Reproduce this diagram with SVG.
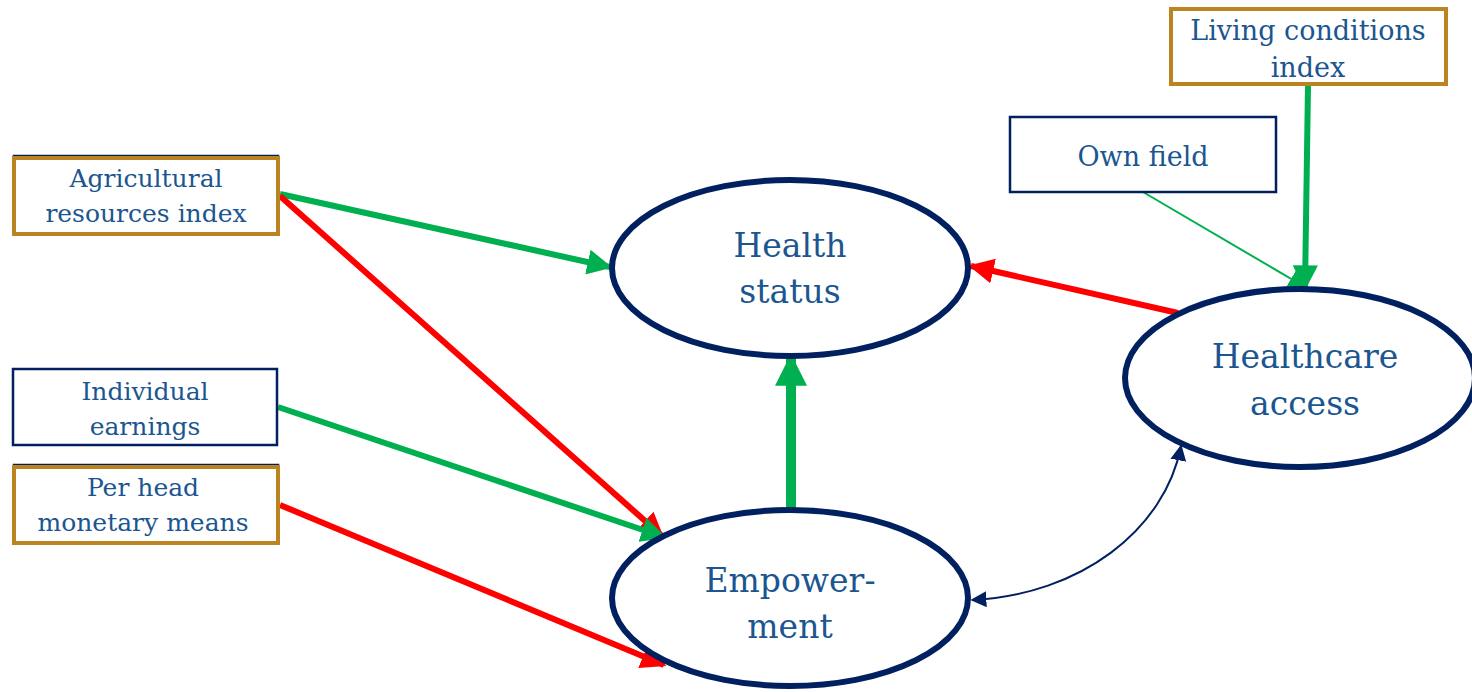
<svg xmlns="http://www.w3.org/2000/svg" width="1472" height="692" viewBox="0 0 1472 692">
  <defs>
    <style>
      .box { fill: #ffffff; stroke: #002060; stroke-width: 2.5; }
      .gold { fill: #ffffff; stroke: #BC8420; stroke-width: 4; }
      .ell { fill: #ffffff; stroke: #002060; stroke-width: 6; }
      text { font-family: "DejaVu Serif", "Liberation Serif", serif; fill: #1B5690; text-anchor: middle; }
      .bt { font-size: 25px; }
      .bt2 { font-size: 27px; }
      .et { font-size: 33px; }
      .g { stroke: #00B050; fill: none; }
      .r { stroke: #FF0000; fill: none; }
      .n { stroke: #002060; fill: none; }
    </style>
    <marker id="ag" viewBox="0 0 10 10" refX="9" refY="5" markerWidth="4.2" markerHeight="4.2" orient="auto" markerUnits="strokeWidth">
      <path d="M0,0 L10,5 L0,10 Z" fill="#00B050"/>
    </marker>
    <marker id="agBig" viewBox="0 0 10 10" refX="9" refY="5" markerWidth="3.2" markerHeight="3.4" orient="auto" markerUnits="strokeWidth">
      <path d="M0,0 L10,5 L0,10 Z" fill="#00B050"/>
    </marker>
    <marker id="agThin" viewBox="0 0 10 10" refX="9" refY="5" markerWidth="9" markerHeight="9" orient="auto" markerUnits="strokeWidth">
      <path d="M0,0 L10,5 L0,10 Z" fill="#00B050"/>
    </marker>
    <marker id="ar" viewBox="0 0 10 10" refX="9" refY="5" markerWidth="4.2" markerHeight="4.2" orient="auto" markerUnits="strokeWidth">
      <path d="M0,0 L10,5 L0,10 Z" fill="#FF0000"/>
    </marker>
    <marker id="an" viewBox="0 0 10 10" refX="9" refY="5" markerWidth="8" markerHeight="8" orient="auto-start-reverse" markerUnits="strokeWidth">
      <path d="M0,0 L10,5 L0,10 Z" fill="#002060"/>
    </marker>
  </defs>

  <!-- connectors -->
  <g id="connectors">
    <line class="g" x1="280" y1="194" x2="610" y2="267" stroke-width="6" marker-end="url(#ag)"/>
    <line class="r" x1="280" y1="196" x2="662" y2="536" stroke-width="6" marker-end="url(#ar)"/>
    <line class="g" x1="278" y1="407" x2="664" y2="537" stroke-width="6" marker-end="url(#ag)"/>
    <line class="r" x1="280" y1="505" x2="664" y2="665" stroke-width="6" marker-end="url(#ar)"/>
    <line class="g" x1="791" y1="511" x2="791" y2="357" stroke-width="10" marker-end="url(#agBig)"/>
    <line class="r" x1="1178" y1="313" x2="971" y2="266" stroke-width="6" marker-end="url(#ar)"/>
    <line class="g" x1="1143" y1="192" x2="1305" y2="287" stroke-width="2" marker-end="url(#agThin)"/>
    <line class="g" x1="1308" y1="86" x2="1305" y2="288" stroke-width="6" marker-end="url(#ag)"/>
    <path class="n" d="M972,600 C1080,595 1165,530 1181,446" stroke-width="2" marker-start="url(#an)" marker-end="url(#an)"/>
  </g>

  <!-- outcome ellipses -->
  <g id="health-status">
    <ellipse class="ell" cx="790" cy="268" rx="178" ry="88"/>
    <text class="et" x="790" y="257">Health</text>
    <text class="et" x="790" y="303">status</text>
  </g>
  <g id="empowerment">
    <ellipse class="ell" cx="790" cy="598" rx="178" ry="88"/>
    <text class="et" x="790" y="592">Empower-</text>
    <text class="et" x="790" y="638">ment</text>
  </g>
  <g id="healthcare-access">
    <ellipse class="ell" cx="1300" cy="378" rx="175" ry="89"/>
    <text class="et" x="1305" y="368">Healthcare</text>
    <text class="et" x="1305" y="415">access</text>
  </g>

  <!-- explanatory variables -->
  <g id="agricultural-resources">
    <rect class="box" x="14" y="156" width="264" height="76"/>
    <rect class="gold" x="14" y="158" width="264" height="76"/>
    <text class="bt" x="146" y="187">Agricultural</text>
    <text class="bt" x="146" y="222">resources index</text>
  </g>
  <g id="individual-earnings">
    <rect class="box" x="13" y="369" width="264" height="76"/>
    <text class="bt" x="145" y="400">Individual</text>
    <text class="bt" x="145" y="435">earnings</text>
  </g>
  <g id="per-head-means">
    <rect class="box" x="14" y="465" width="264" height="76"/>
    <rect class="gold" x="14" y="467" width="264" height="76"/>
    <text class="bt" x="143" y="496">Per head</text>
    <text class="bt" x="143" y="531">monetary means</text>
  </g>
  <g id="own-field">
    <rect class="box" x="1010" y="117" width="266" height="75"/>
    <text class="bt2" x="1143" y="166">Own field</text>
  </g>
  <g id="living-conditions">
    <rect class="gold" x="1171" y="9" width="275" height="75"/>
    <text class="bt2" x="1308" y="40">Living conditions</text>
    <text class="bt2" x="1308" y="77">index</text>
  </g>
</svg>
